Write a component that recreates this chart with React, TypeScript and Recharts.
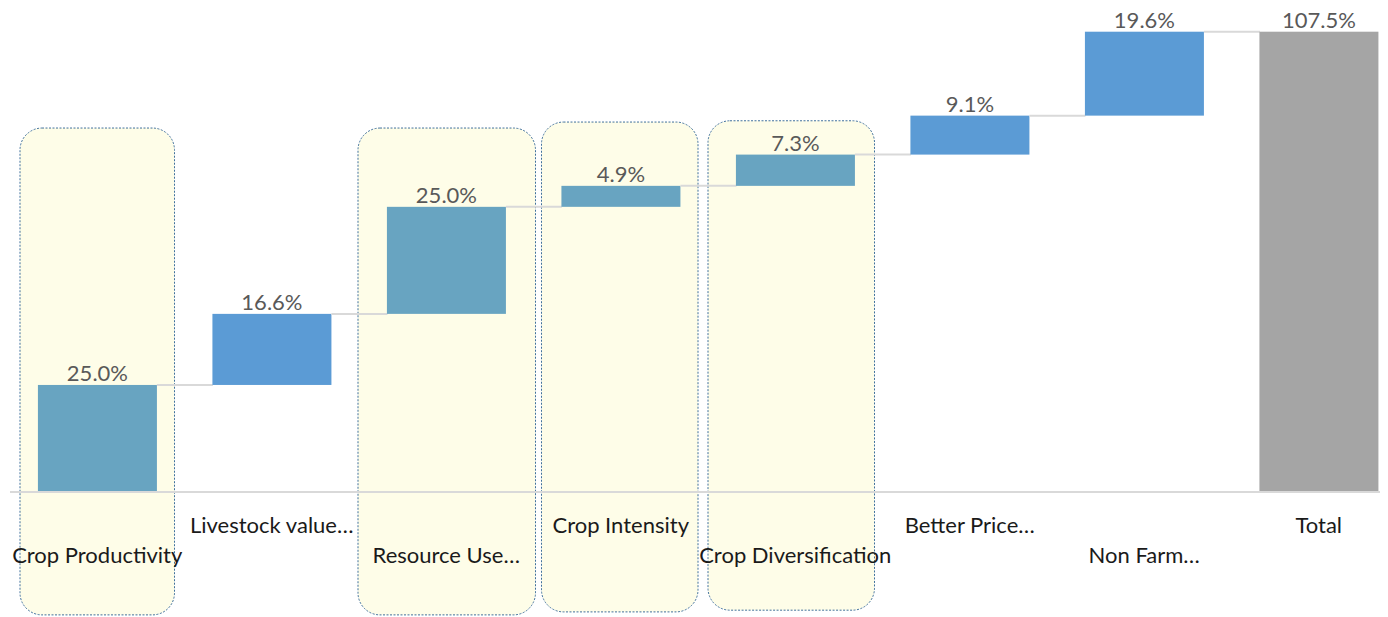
import React from 'react';
import { BarChart, Bar, XAxis, YAxis, Cell, LabelList, ReferenceArea } from 'recharts';

const categories = [
  'Crop Productivity',
  'Livestock value…',
  'Resource Use…',
  'Crop Intensity',
  'Crop Diversification',
  'Better Price…',
  'Non Farm…',
  'Total',
];
const changes = [25.0, 16.6, 25.0, 4.9, 7.3, 9.1, 19.6];
const totalValue = 107.5;
const cropCategories = ['Crop Productivity', 'Resource Use…', 'Crop Intensity', 'Crop Diversification'];

// dotted yellow boxes drawn around the crop related steps
const boxes = [
  { category: 'Crop Productivity', top: 85.0, bottom: -28.7, padL: 10, padR: 10 },
  { category: 'Resource Use…', top: 85.0, bottom: -28.7, padL: -1, padR: -2 },
  { category: 'Crop Intensity', top: 86.4, bottom: -28.0, padL: 8, padR: 10 },
  { category: 'Crop Diversification', top: 86.7, bottom: -27.6, padL: 0, padR: 8 },
];

const FONT = 'Lato, "Open Sans", sans-serif';
const GAP = 0.16;

let running = 0;
const data = categories.map((name, i) => {
  if (i === changes.length) return { name, base: 0, delta: totalValue };
  const row = { name, base: running, delta: changes[i] };
  running += changes[i];
  return row;
});

const barColor = (name: string, i: number) => {
  if (i === categories.length - 1) return '#a5a5a5';
  return cropCategories.includes(name) ? '#68a4c1' : '#5b9bd5';
};

const StepBar = (props: any) => {
  const { x, y, width, height, index, fill } = props;
  const gap = (width * (2 * GAP)) / (1 - 2 * GAP);
  return (
    <g>
      <rect x={x} y={y} width={width} height={height} fill={fill} />
      {index < categories.length - 1 && (
        <line x1={x + width} x2={x + width + gap} y1={y} y2={y} stroke="#d9d9d9" strokeWidth={2} />
      )}
    </g>
  );
};

const BoxShape = (pad: { padL: number; padR: number }) => (props: any) => {
  const { x, y, width, height } = props;
  return (
    <rect
      x={x + pad.padL}
      y={y}
      width={width - pad.padL - pad.padR}
      height={height}
      rx={22}
      ry={22}
      fill="#fefde8"
      stroke="#41719c"
      strokeWidth={1}
      strokeDasharray="2 1.5"
    />
  );
};

const StaggerTick = (props: any) => {
  const { x, y, payload, index } = props;
  const dy = index % 2 === 1 ? 33 : 63;
  return (
    <text x={x} y={y + dy} textAnchor="middle" fill="#1a1a1a" fontSize={22} fontFamily={FONT}>
      {payload.value}
    </text>
  );
};

export default function App() {
  return (
    <div style={{ width: 1380, height: 609, overflow: 'hidden' }}>
      <BarChart
        width={1400}
        height={609}
        data={data}
        margin={{ top: 13, right: 2, left: 2, bottom: 5 }}
        barCategoryGap={`${GAP * 100}%`}
      >
        {boxes.map((b) => (
          <ReferenceArea
            key={b.category}
            x1={b.category}
            x2={b.category}
            y1={b.bottom}
            y2={b.top}
            ifOverflow="visible"
            shape={BoxShape(b)}
          />
        ))}
        <XAxis
          dataKey="name"
          interval={0}
          tickLine={false}
          axisLine={{ stroke: '#d9d9d9', strokeWidth: 2 }}
          tick={<StaggerTick />}
          height={120}
        />
        <YAxis hide domain={[0, 110]} />
        <Bar dataKey="base" stackId="w" fill="transparent" isAnimationActive={false} />
        <Bar dataKey="delta" stackId="w" shape={<StepBar />} isAnimationActive={false}>
          {data.map((d, i) => (
            <Cell key={d.name} fill={barColor(d.name, i)} />
          ))}
          <LabelList
            dataKey="delta"
            position="top"
            offset={4}
            formatter={(v: any) => `${Number(v).toFixed(1)}%`}
            fill="#595959"
            fontSize={22}
            fontFamily={FONT}
          />
        </Bar>
      </BarChart>
    </div>
  );
}
